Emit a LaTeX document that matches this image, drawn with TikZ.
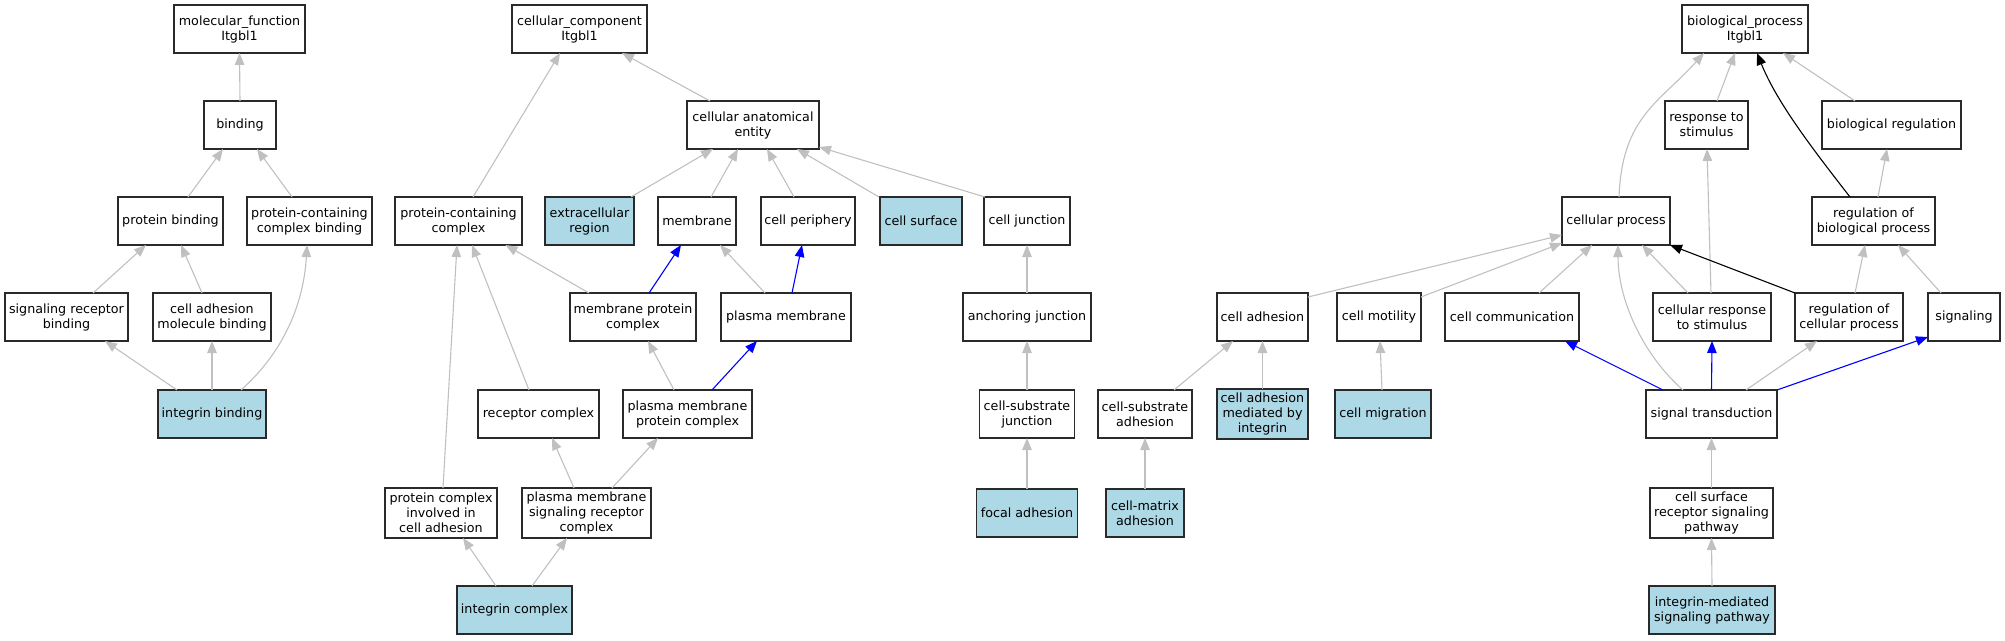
\documentclass[tikz,border=0pt]{standalone}
\usepackage{fontspec}
\setmainfont{DejaVu Sans}
\usetikzlibrary{arrows.meta}
\definecolor{edgegray}{HTML}{C0C0C0}
\definecolor{lblue}{HTML}{ADD8E6}
\definecolor{boxline}{HTML}{2A2A2A}
\begin{document}
\begin{tikzpicture}[x=1pt,y=-1pt,
  box/.style={draw=boxline, line width=1.1pt, fill=white, inner sep=0pt, outer sep=0pt,
    align=center, font=\fontsize{12.7}{15}\selectfont, minimum height=48pt},
  hl/.style={box, fill=lblue},
  tall/.style={minimum height=50pt},
  ge/.style={draw=edgegray, line width=1.1pt, -{Triangle[length=12pt,width=9.5pt]}},
  be/.style={ge, draw=blue},
  ke/.style={ge, draw=black}
]
\useasboundingbox (0,0) rectangle (2005,640);
% ---------------- molecular function
\node[box, minimum width=131pt] (mf) at (239.5,29) {molecular\_function\\Itgbl1};
\node[box, minimum width=72pt] (bind) at (240,125) {binding};
\node[box, minimum width=105pt] (pbind) at (170.5,221) {protein binding};
\node[box, minimum width=125pt] (pccb) at (309.5,221) {protein-containing\\complex binding};
\node[box, minimum width=123pt] (srb) at (66.5,317) {signaling receptor\\binding};
\node[box, minimum width=118pt] (camb) at (212,317) {cell adhesion\\molecule binding};
\node[hl, minimum width=108pt] (intb) at (212,414) {integrin binding};
% ---------------- cellular component
\node[box, minimum width=135pt] (cc) at (579.5,29) {cellular\_component\\Itgbl1};
\node[box, minimum width=132pt] (cae) at (753,125) {cellular anatomical\\entity};
\node[box, minimum width=127pt] (pcc) at (458.5,221) {protein-containing\\complex};
\node[hl, minimum width=89pt] (ext) at (589.5,221) {extracellular\\region};
\node[box, minimum width=78pt] (mem) at (697,221) {membrane};
\node[box, minimum width=94pt] (cper) at (808,221) {cell periphery};
\node[hl, minimum width=82pt] (csurf) at (921,221) {cell surface};
\node[box, minimum width=86pt] (cj) at (1027,221) {cell junction};
\node[box, minimum width=126pt] (mpc) at (633,317) {membrane protein\\complex};
\node[box, minimum width=130pt] (pm) at (786,317) {plasma membrane};
\node[box, minimum width=128pt] (aj) at (1027,317) {anchoring junction};
\node[box, minimum width=121pt] (rc) at (538.5,414) {receptor complex};
\node[box, minimum width=129pt] (pmpc) at (687.5,414) {plasma membrane\\protein complex};
\node[box, minimum width=95pt] (csj) at (1027,414) {cell-substrate\\junction};
\node[box, tall, minimum width=112pt] (pcica) at (441,513) {protein complex\\involved in\\cell adhesion};
\node[box, tall, minimum width=129pt] (pmsrc) at (586.5,513) {plasma membrane\\signaling receptor\\complex};
\node[hl, minimum width=101pt] (fa) at (1027,513) {focal adhesion};
\node[hl, minimum width=115pt] (intc) at (514.5,610) {integrin complex};
% ---------------- biological process
\node[box, minimum width=126pt] (bp) at (1745,29) {biological\_process\\Itgbl1};
\node[box, minimum width=83pt] (rs) at (1706.5,125) {response to\\stimulus};
\node[box, minimum width=139pt] (brg) at (1891.5,125) {biological regulation};
\node[box, minimum width=108pt] (cp) at (1616,221) {cellular process};
\node[box, minimum width=123pt] (rbp) at (1873.5,221) {regulation of\\biological process};
\node[box, minimum width=91pt] (ca) at (1262.5,317) {cell adhesion};
\node[box, minimum width=84pt] (cmot) at (1379,317) {cell motility};
\node[box, minimum width=134pt] (ccomm) at (1512,317) {cell communication};
\node[box, minimum width=118pt] (crs) at (1712,317) {cellular response\\to stimulus};
\node[box, minimum width=108pt] (rcp) at (1849,317) {regulation of\\cellular process};
\node[box, minimum width=72pt] (sig) at (1964,317) {signaling};
\node[box, minimum width=94pt] (csa) at (1145,414) {cell-substrate\\adhesion};
\node[hl, tall, minimum width=91pt] (camint) at (1262.5,414) {cell adhesion\\mediated by\\integrin};
\node[hl, minimum width=96pt] (cmig) at (1383,414) {cell migration};
\node[box, minimum width=131pt] (st) at (1711.5,414) {signal transduction};
\node[hl, minimum width=78pt] (cma) at (1145,513) {cell-matrix\\adhesion};
\node[box, tall, minimum width=123pt] (csrsp) at (1711.5,513) {cell surface\\receptor signaling\\pathway};
\node[hl, minimum width=126pt] (imsp) at (1712,610) {integrin-mediated\\signaling pathway};
% ================= edges: molecular function
\draw[ge] (bind.north) -- (mf.south);
\draw[ge] ([xshift=17.5pt]pbind.north) -- ([xshift=-17pt]bind.south);
\draw[ge] ([xshift=-17.5pt]pccb.north) -- ([xshift=17pt]bind.south);
\draw[ge] ([xshift=26.5pt]srb.north) -- ([xshift=-24.5pt]pbind.south);
\draw[ge] ([xshift=-10pt]camb.north) -- ([xshift=10.5pt]pbind.south);
\draw[ge] ([xshift=-35pt]intb.north) -- ([xshift=38.5pt]srb.south);
\draw[ge] (intb.north) -- (camb.south);
\draw[ge] ([xshift=29pt]intb.north) .. controls +(45,-40) and +(-3,55) .. ([xshift=-2.5pt]pccb.south);
% ================= edges: cellular component
\draw[ge] ([xshift=14.5pt]pcc.north) -- ([xshift=-19.5pt]cc.south);
\draw[ge] ([xshift=-43pt]cae.north) -- ([xshift=42.5pt]cc.south);
\draw[ge] ([xshift=41.5pt]ext.north) -- ([xshift=-40pt]cae.south);
\draw[ge] ([xshift=14pt]mem.north) -- ([xshift=-15pt]cae.south);
\draw[ge] ([xshift=-14pt]cper.north) -- ([xshift=14pt]cae.south);
\draw[ge] ([xshift=-42pt]csurf.north) -- ([xshift=44pt]cae.south);
\draw[ge] ([xshift=-42pt]cj.north) -- ([yshift=2pt]cae.south east);
\draw[ge] (aj.north) -- (cj.south);
\draw[ge] ([xshift=-44pt]mpc.north) -- ([xshift=47pt]pcc.south);
\draw[be] ([xshift=16pt]mpc.north) -- ([xshift=-16pt]mem.south);
\draw[ge] ([xshift=-21pt]pm.north) -- ([xshift=23pt]mem.south);
\draw[be] ([xshift=6pt]pm.north) -- ([xshift=-6pt]cper.south);
\draw[ge] ([xshift=-9.5pt]rc.north) -- ([xshift=13.5pt]pcc.south);
\draw[ge] ([xshift=-13.5pt]pmpc.north) -- ([xshift=15pt]mpc.south);
\draw[be] ([xshift=24.5pt]pmpc.north) -- ([xshift=-29pt]pm.south);
\draw[ge] ([xshift=2pt]pcica.north) -- ([xshift=-1.5pt]pcc.south);
\draw[ge] ([xshift=-12.5pt]pmsrc.north) -- ([xshift=13.5pt]rc.south);
\draw[ge] ([xshift=25.5pt]pmsrc.north) -- ([xshift=-29.5pt]pmpc.south);
\draw[ge] ([xshift=-18.5pt]intc.north) -- ([xshift=22pt]pcica.south);
\draw[ge] ([xshift=17.5pt]intc.north) -- ([xshift=-19.5pt]pmsrc.south);
\draw[ge] (csj.north) -- (aj.south);
\draw[ge] (fa.north) -- (csj.south);
% ================= edges: biological process
\draw[ge] ([xshift=3pt]cp.north) .. controls +(3,-80) and +(-45,50) .. ([xshift=-41pt]bp.south);
\draw[ge] ([xshift=10.5pt]rs.north) -- ([xshift=-10pt]bp.south);
\draw[ke] ([xshift=-23.5pt]rbp.north) .. controls +(-35,-45) and +(20,50) .. ([xshift=12pt]bp.south);
\draw[ge] ([xshift=-36.5pt]brg.north) -- ([xshift=38pt]bp.south);
\draw[ge] ([xshift=4.5pt]rbp.north) -- ([xshift=-4.5pt]brg.south);
\draw[ge] ([yshift=-4pt]ca.north east) -- ([yshift=-14pt]cp.west);
\draw[ge] ([yshift=-4pt]cmot.north east) -- ([yshift=2pt]cp.south west);
\draw[ge] ([xshift=27pt]ccomm.north) -- ([xshift=-24pt]cp.south);
\draw[ge] ([xshift=-24pt]crs.north) -- ([xshift=26pt]cp.south);
\draw[ge] ([xshift=-1pt]crs.north) -- ([xshift=0.5pt]rs.south);
\draw[ke] (rcp.north west) -- (cp.south east);
\draw[ge] ([xshift=6pt]rcp.north) -- ([xshift=-8.5pt]rbp.south);
\draw[ge] ([xshift=-23pt]sig.north) -- ([xshift=24.5pt]rbp.south);
\draw[ge] ([xshift=29pt]csa.north) -- ([xshift=-29.5pt]ca.south);
\draw[ge] (camint.north) -- (ca.south);
\draw[ge] ([xshift=-1pt]cmig.north) -- ([xshift=1pt]cmot.south);
\draw[ge] (cma.north) -- (csa.south);
\draw[ge] ([xshift=-28.5pt]st.north) .. controls +(-40,-35) and +(0,55) .. ([xshift=2pt]cp.south);
\draw[be] ([xshift=-48.5pt]st.north) -- ([xshift=53pt]ccomm.south);
\draw[be] (st.north) -- (crs.south);
\draw[ge] ([xshift=34.5pt]st.north) -- ([xshift=-32pt]rcp.south);
\draw[be] (st.north east) -- ([yshift=4pt]sig.south west);
\draw[ge] (csrsp.north) -- (st.south);
\draw[ge] (imsp.north) -- (csrsp.south);
\end{tikzpicture}
\end{document}
